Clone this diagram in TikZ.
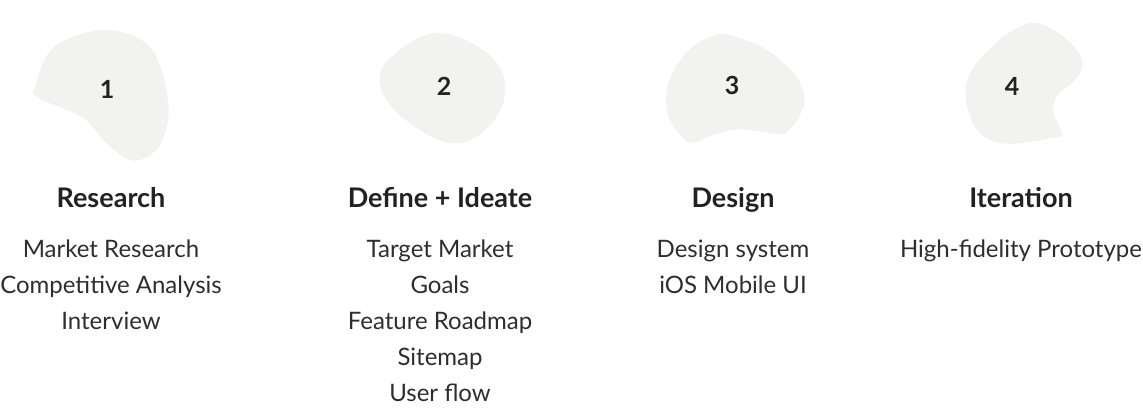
\documentclass[tikz,border=0pt]{standalone}
\usepackage{fontspec}
\setmainfont{Lato}
\definecolor{blobfill}{HTML}{F2F2F1}
\definecolor{headc}{HTML}{222222}
\definecolor{itemc}{HTML}{2E2E2E}
\begin{document}
\begin{tikzpicture}[x=1pt,y=-1pt,
  blob/.style={fill=blobfill,draw=none},
  num/.style={font=\fontsize{25}{30}\selectfont\bfseries,text=headc,inner sep=0pt},
  head/.style={font=\fontsize{27}{32}\selectfont\bfseries,text=headc,anchor=base,inner sep=0pt},
  item/.style={font=\fontsize{24}{28}\selectfont,text=itemc,anchor=base,inner sep=0pt}]
\useasboundingbox (0,0) rectangle (1143,410);
% blobs
\fill[blob] plot[smooth cycle,tension=0.6] coordinates {(98.7,30.2) (136,37) (158,60.5) (168.7,110.9) (158,147.8) (132.8,160.6) (107.7,144.5) (82.6,117.6) (37.7,97.4) (35.9,84) (53.9,47)};
\fill[blob] plot[smooth cycle,tension=0.65] coordinates {(438,33) (488,53.8) (505.5,89) (488,127.7) (448.8,142.8) (398.5,114) (379.8,80.6) (395,53.8)};
\fill[blob] plot[smooth cycle,tension=0.55] coordinates {(728,34.6) (767.7,50.4) (796.6,77.3) (804.5,100.8) (796.6,121) (785.8,132.7) (775,133.7) (738.8,129.4) (710,136) (693.7,142.8) (682.9,137.8) (670.3,121) (665.9,97.4) (672,73.9) (688.3,50.4) (706.4,38.6)};
\fill[blob] plot[smooth cycle,tension=0.55] coordinates {(1034.9,22.8) (1056.5,31.9) (1074.6,47) (1082.5,63.8) (1074.6,80.6) (1058.3,94.1) (1052.9,110.9) (1061.9,132.7) (1056.5,137.1) (1013.2,143.8) (987.9,139.4) (973.5,124.3) (965.5,97.4) (969.9,73.9) (987.9,50.4) (1013.2,30.2)};
% numbers
\node[num] (n1) at (107,89) {1};
\node[num] (n2) at (444,86) {2};
\node[num] (n3) at (732,85) {3};
\node[num] (n4) at (1012,86) {4};
% headings
\node[head] (h1) at (111,207) {Research};
\node[head] (h2) at (440,207) {Define + Ideate};
\node[head] (h3) at (733,207) {Design};
\node[head] (h4) at (1021,207) {Iteration};
% items
\node[item] (a1) at (111,257) {Market Research};
\node[item] (a2) at (111,293) {Competitive Analysis};
\node[item] (a3) at (111,329) {Interview};
\node[item] (b1) at (440,257) {Target Market};
\node[item] (b2) at (440,293) {Goals};
\node[item] (b3) at (440,329) {Feature Roadmap};
\node[item] (b4) at (440,365) {Sitemap};
\node[item] (b5) at (440,401) {User flow};
\node[item] (c1) at (733,257) {Design system};
\node[item] (c2) at (733,293) {iOS Mobile UI};
\node[item] (d1) at (1021,257) {High-fidelity Prototype};
\end{tikzpicture}
\end{document}
